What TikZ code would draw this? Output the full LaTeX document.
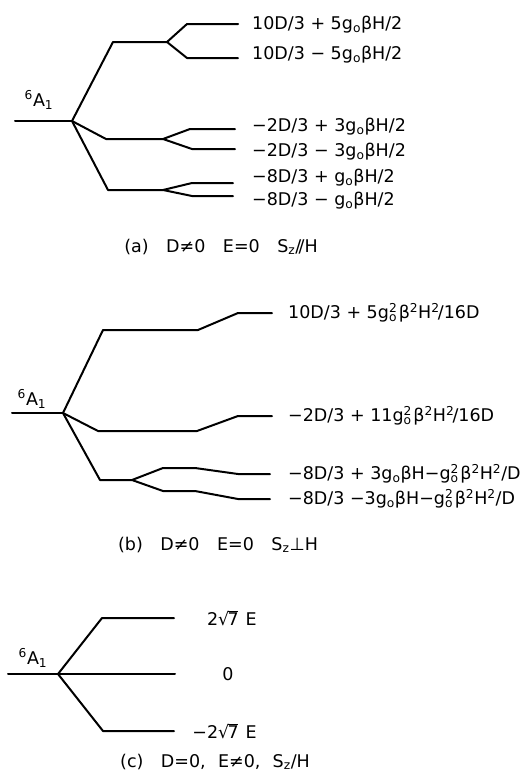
\documentclass[tikz,border=0pt]{standalone}
\usepackage{fontspec}
\setmainfont{DejaVu Sans}
% g-naught, with and without a stacked square
\newcommand\gzero{g\textsubscript{o}}
\newcommand\gzerosq{g\makebox[0pt][l]{\textsuperscript{2}}\textsubscript{o}\kern0.1em}
\newcommand\sqtwo{\textsuperscript{2}}
\newcommand\rootseven{√\kern-0.1em\rlap{\rule[0.76em]{0.62em}{0.07em}}7}
\newcommand\termA{\textsuperscript{6}A\textsubscript{1}}
\newcommand\gap{\hspace{1.0em}}
\begin{document}
\begin{tikzpicture}[x=1pt,y=-1pt,
  lev/.style={line width=2pt, line cap=round, line join=round},
  lbl/.style={anchor=west, inner sep=0pt, font=\fontsize{17.5}{20}\selectfont},
  term/.style={inner sep=0pt, font=\fontsize{17.5}{20}\selectfont},
  captxt/.style={inner sep=0pt, font=\fontsize{17.5}{20}\selectfont}]
\useasboundingbox (0,0) rectangle (524,774);

% ---------------- (a) D != 0, E = 0, Sz // H ----------------
\coordinate (a0) at (15,121);
\coordinate (aS) at (72,121);
\coordinate (aU1) at (113,42);  \coordinate (aU2) at (167,42);
\coordinate (aM1) at (106,139); \coordinate (aM2) at (163,139);
\coordinate (aL1) at (108,190); \coordinate (aL2) at (163,190);
\coordinate (a1a) at (187,24);  \coordinate (a1b) at (238,24);
\coordinate (a2a) at (187,58);  \coordinate (a2b) at (238,58);
\coordinate (a3a) at (190,129); \coordinate (a3b) at (235,129);
\coordinate (a4a) at (192,149); \coordinate (a4b) at (235,149);
\coordinate (a5a) at (192,183); \coordinate (a5b) at (233,183);
\coordinate (a6a) at (192,196); \coordinate (a6b) at (233,196);
\draw[lev] (a0) -- (aS);
\draw[lev] (aS) -- (aU1) -- (aU2);
\draw[lev] (aS) -- (aM1) -- (aM2);
\draw[lev] (aS) -- (aL1) -- (aL2);
\draw[lev] (aU2) -- (a1a) -- (a1b);
\draw[lev] (aU2) -- (a2a) -- (a2b);
\draw[lev] (aM2) -- (a3a) -- (a3b);
\draw[lev] (aM2) -- (a4a) -- (a4b);
\draw[lev] (aL2) -- (a5a) -- (a5b);
\draw[lev] (aL2) -- (a6a) -- (a6b);
\node[term] (aT) at (39,100) {\termA};
\node[lbl] (la1) at (252,25)  {10D/3 + 5\gzero βH/2};
\node[lbl] (la2) at (252,55)  {10D/3 − 5\gzero βH/2};
\node[lbl] (la3) at (252,127) {−2D/3 + 3\gzero βH/2};
\node[lbl] (la4) at (252,152) {−2D/3 − 3\gzero βH/2};
\node[lbl] (la5) at (252,178) {−8D/3 + \gzero βH/2};
\node[lbl] (la6) at (252,201) {−8D/3 − \gzero βH/2};
\node[captxt] (capa) at (221,247) {(a)\gap D≠0\gap E=0\gap S\textsubscript{z}/\kern-0.15em/H};

% ---------------- (b) D != 0, E = 0, Sz perp H ----------------
\coordinate (b0) at (12,413);
\coordinate (bS) at (63,413);
\coordinate (bU1) at (103,330); \coordinate (bU2) at (198,330);
\coordinate (bU3) at (238,313); \coordinate (bU4) at (272,313);
\coordinate (bM1) at (98,431);  \coordinate (bM2) at (197,431);
\coordinate (bM3) at (238,416); \coordinate (bM4) at (272,416);
\coordinate (bL1) at (100,480); \coordinate (bL2) at (132,480);
\coordinate (bP1) at (163,468); \coordinate (bP2) at (195,468);
\coordinate (bP3) at (238,474); \coordinate (bP4) at (270,474);
\coordinate (bQ1) at (163,491); \coordinate (bQ2) at (195,491);
\coordinate (bQ3) at (238,499); \coordinate (bQ4) at (270,499);
\draw[lev] (b0) -- (bS);
\draw[lev] (bS) -- (bU1) -- (bU2) -- (bU3) -- (bU4);
\draw[lev] (bS) -- (bM1) -- (bM2) -- (bM3) -- (bM4);
\draw[lev] (bS) -- (bL1) -- (bL2);
\draw[lev] (bL2) -- (bP1) -- (bP2) -- (bP3) -- (bP4);
\draw[lev] (bL2) -- (bQ1) -- (bQ2) -- (bQ3) -- (bQ4);
\node[term] (bT) at (32,399) {\termA};
\node[lbl] (lb1) at (288,313) {10D/3 + 5\gzerosq β\sqtwo H\sqtwo\kern-0.1em/16D};
\node[lbl] (lb2) at (288,416) {−2D/3 + 11\gzerosq β\sqtwo H\sqtwo\kern-0.1em/16D};
\node[lbl] (lb3) at (288,474) {−8D/3 + 3\gzero βH−\gzerosq β\sqtwo H\sqtwo/D};
\node[lbl] (lb4) at (288,499) {−8D/3 −3\gzero βH−\gzerosq β\sqtwo H\sqtwo/D};
\node[captxt] (capb) at (218,545) {(b)\gap D≠0\gap E=0\gap S\textsubscript{z}⊥H};

% ---------------- (c) D = 0, E != 0, Sz / H ----------------
\coordinate (c0) at (8,674);
\coordinate (cS) at (58,674);
\coordinate (cZ) at (175,674);
\coordinate (cU1) at (102,618); \coordinate (cU2) at (174,618);
\coordinate (cL1) at (103,731); \coordinate (cL2) at (174,731);
\draw[lev] (c0) -- (cS) -- (cZ);
\draw[lev] (cS) -- (cU1) -- (cU2);
\draw[lev] (cS) -- (cL1) -- (cL2);
\node[term] (cT) at (33,658) {\termA};
\node[lbl, anchor=east] (lc1) at (257,618) {2\rootseven\hspace{0.4em}E};
\node[lbl, anchor=center] (lc2) at (228,674) {0};
\node[lbl, anchor=east] (lc3) at (257,731) {−2\rootseven\hspace{0.4em}E};
\node[captxt] (capc) at (215,762) {(c)\gap D=0,\hspace{0.7em}E≠0,\hspace{0.7em}S\textsubscript{z}/H};
\end{tikzpicture}
\end{document}
